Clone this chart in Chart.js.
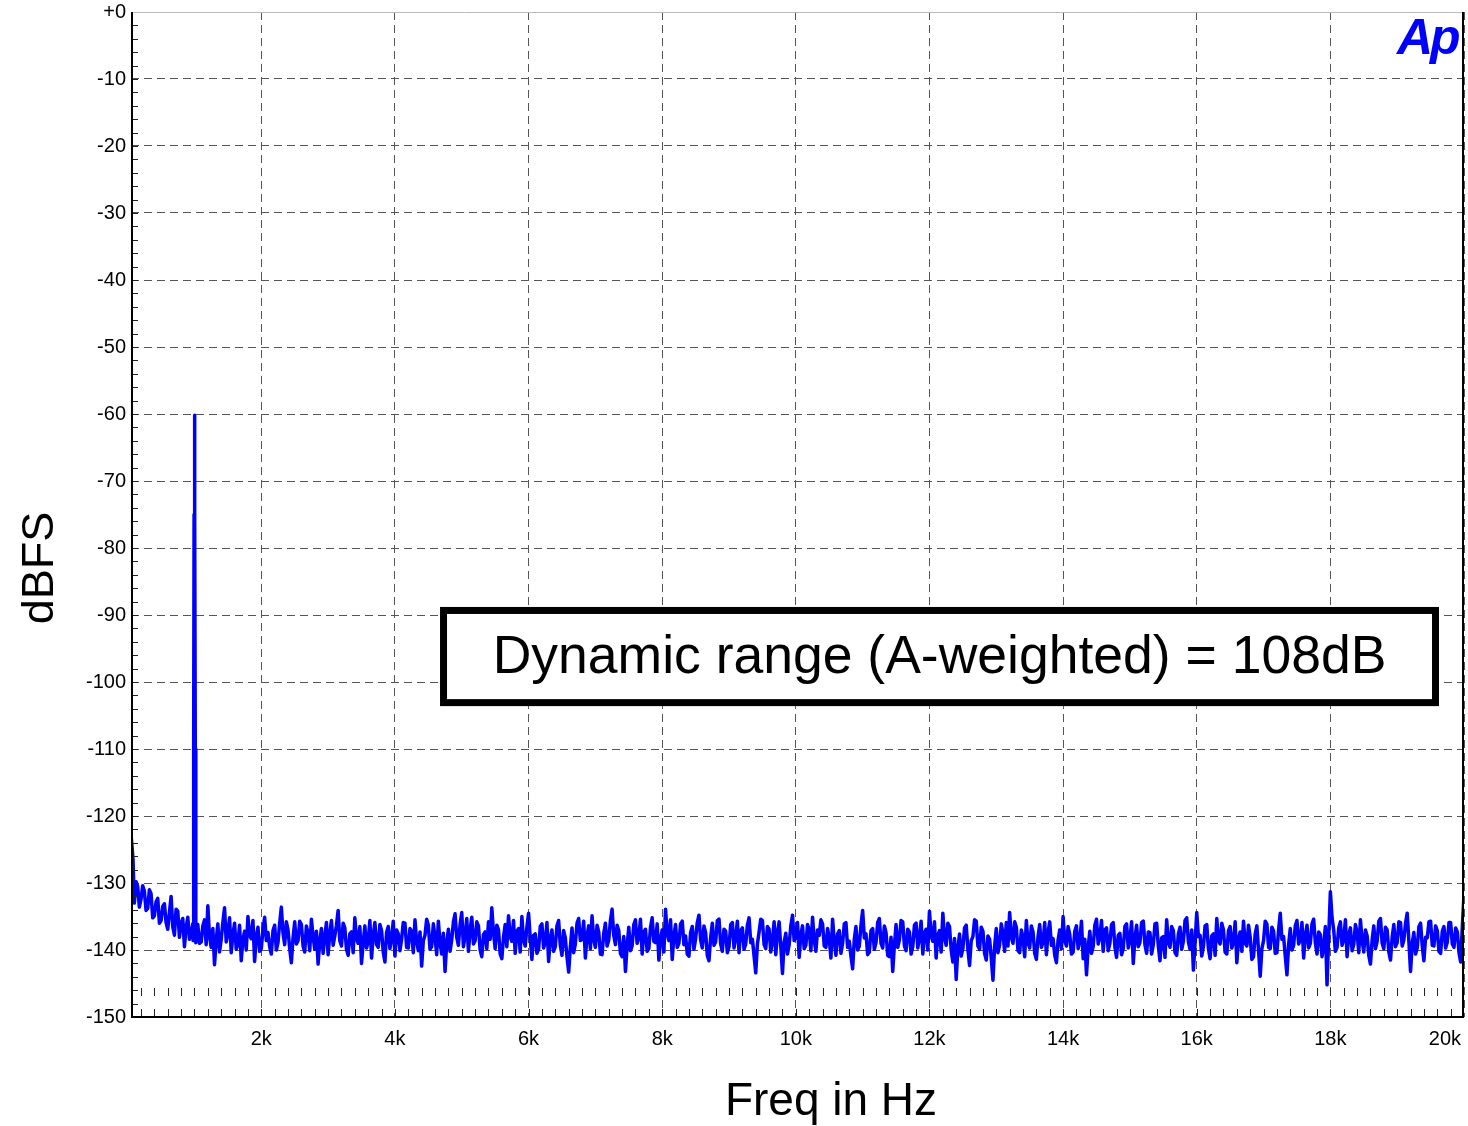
<!DOCTYPE html>
<html lang="en">
<head>
<meta charset="UTF-8">
<title>Dynamic range FFT</title>
<script src="https://cdn.jsdelivr.net/npm/chart.js"></script>
<style>
body { margin: 0; background: #fff; }
#wrap { position: relative; width: 1468px; height: 1126px; }
</style>
</head>
<body>
<div id="wrap"><canvas id="fftChart"></canvas></div>
<script>
// axis ticks
const freqTicks = [2000, 4000, 6000, 8000, 10000, 12000, 14000, 16000, 18000, 20000];
const freqLabels = ['2k', '4k', '6k', '8k', '10k', '12k', '14k', '16k', '18k', '20k'];
const freqMin = 50, freqMax = 20000;
const dbMin = -150, dbMax = 0;

// low end roll-off (Hz / dBFS)
const lowHz = [50, 65, 80];
const lowDb = [-122.8, -124.5, -126.5];

// 1 kHz test tone at -60 dBFS
const toneHz = [980, 988, 994, 1000, 1006, 1012, 1020];
const toneDb = [-138.6, -110, -75, -60.2, -75.5, -110, -138.9];

// noise floor, one value per 25 Hz bin starting at 100 Hz, 1 kHz per row (null = tone bin)
const noiseStartHz = 100;
const binHz = 25;
const noiseDb = [
  -133.0, -129.8, -130.5, -133.6, -132.4, -130.4, -131.2, -134.1, -133.8, -131.0, -131.6, -135.2, -134.9, -132.8, -132.3, -136.0, -135.6, -133.5, -133.1, -135.9,
  -136.9, -134.4, -132.0, -136.5, -137.8, -133.9, -134.2, -138.1, -136.0, -135.3, -139.5, -136.6, -135.1, -138.4, -137.4, -136.1, null, -138.3, -136.2, -139.0,
  -138.8, -136.4, -135.5, -139.2, -133.4, -137.9, -139.6, -136.8, -142.2, -138.5, -136.1, -140.3, -138.4, -135.9, -133.7, -138.8, -137.5, -135.2, -140.4, -137.7,
  -136.0, -139.9, -139.1, -136.3, -141.6, -138.4, -137.2, -140.0, -135.0, -137.8, -138.3, -135.6, -141.7, -138.0, -136.6, -140.2, -139.8, -136.9, -135.1, -138.6,
  -137.4, -139.5, -140.6, -137.1, -136.3, -140.0, -138.9, -136.0, -133.6, -137.5, -139.2, -135.8, -137.0, -139.8, -141.9, -138.2, -135.8, -139.1, -138.6, -135.7,
  -136.2, -139.4, -140.3, -136.4, -137.5, -140.1, -135.4, -138.0, -139.9, -137.2, -142.1, -138.7, -136.8, -140.5, -138.1, -135.9, -140.7, -137.6, -135.6, -139.3,
  -137.9, -136.3, -134.1, -138.6, -139.4, -136.0, -136.7, -139.9, -140.8, -137.6, -137.3, -140.4, -135.2, -138.3, -139.0, -136.5, -142.0, -138.9, -136.4, -139.7,
  -138.7, -135.6, -141.2, -137.8, -135.9, -139.2, -139.6, -136.2, -137.1, -140.3, -141.8, -137.4, -136.5, -139.8, -138.2, -135.7, -140.9, -137.0, -137.6, -140.1,
  -138.4, -135.9, -136.0, -139.6, -139.7, -136.8, -137.2, -140.4, -135.5, -138.7, -140.1, -137.3, -142.4, -138.6, -137.8, -135.4, -136.3, -139.9, -139.5, -136.1,
  -138.0, -140.7, -135.7, -138.9, -140.6, -137.5, -143.2, -139.0, -136.9, -140.2, -138.5, -135.8, -134.6, -138.1, -139.3, -136.2, -134.4, -139.5, -137.9, -135.3,
  -140.2, -137.0, -135.1, -139.1, -138.6, -135.8, -136.4, -140.0, -141.0, -137.7, -137.3, -139.8, -135.8, -138.4, -133.7, -137.4, -139.8, -136.3, -137.0, -140.6,
  -141.3, -138.1, -136.2, -139.5, -134.9, -138.0, -138.7, -135.6, -140.5, -137.2, -136.8, -140.3, -135.0, -138.5, -139.4, -136.6, -134.5, -138.2, -141.4, -137.8,
  -137.6, -140.5, -139.9, -136.5, -136.1, -139.7, -138.8, -135.9, -141.7, -138.3, -137.0, -140.2, -139.5, -136.4, -135.6, -139.3, -140.8, -137.1, -138.2, -141.0,
  -143.3, -139.6, -136.7, -140.4, -139.1, -136.0, -135.3, -138.6, -138.4, -135.7, -141.2, -137.9, -136.4, -139.8, -134.9, -138.4, -139.6, -136.3, -137.3, -140.6,
  -140.7, -137.5, -136.0, -139.4, -138.5, -135.6, -133.9, -137.8, -139.2, -136.3, -137.1, -140.5, -141.0, -138.0, -143.2, -139.4, -136.6, -140.1, -139.4, -136.2,
  -135.5, -139.0, -138.1, -135.4, -140.6, -137.3, -136.9, -140.2, -139.8, -136.6, -135.2, -138.7, -138.9, -136.1, -141.5, -138.4, -137.0, -140.3, -133.9, -137.6,
  -138.6, -135.5, -141.4, -137.9, -136.2, -139.6, -139.0, -136.1, -135.7, -139.2, -137.9, -140.6, -140.9, -137.4, -136.5, -139.9, -138.3, -135.9, -134.8, -138.5,
  -139.7, -136.4, -137.4, -140.8, -141.6, -138.2, -136.0, -139.3, -138.8, -135.6, -135.4, -139.1, -140.2, -136.9, -137.2, -140.4, -139.5, -136.2, -135.9, -139.7,
  -138.1, -135.7, -140.4, -137.1, -136.7, -139.9, -139.1, -136.3, -135.2, -138.9, -138.4, -140.9, -143.4, -139.1, -137.3, -135.4, -135.6, -139.2, -139.8, -136.5,
  -136.9, -140.3, -138.6, -135.8, -140.7, -137.4, -135.8, -139.5, -143.5, -138.8, -137.5, -140.6, -139.2, -136.4, -134.8, -138.6, -138.0, -135.9, -141.1, -137.7,
  -136.4, -139.8, -139.3, -136.2, -137.0, -140.1, -135.1, -138.5, -140.2, -137.0, -137.8, -135.5, -136.1, -139.4, -139.6, -136.8, -138.3, -141.2, -135.4, -138.7,
  -140.8, -137.6, -137.1, -140.5, -139.0, -136.1, -135.9, -139.6, -138.7, -140.9, -142.8, -138.4, -136.5, -140.0, -139.4, -136.3, -134.1, -138.2, -137.6, -140.7,
  -140.3, -137.1, -136.8, -139.9, -138.9, -135.9, -135.3, -139.0, -139.7, -136.4, -137.4, -140.8, -141.0, -138.1, -143.2, -139.3, -136.2, -139.6, -138.5, -135.6,
  -135.8, -139.4, -140.1, -136.9, -137.3, -140.6, -139.5, -136.3, -136.0, -139.7, -138.2, -135.7, -140.6, -137.5, -136.9, -140.0, -134.2, -137.9, -138.7, -135.8,
  -141.2, -137.8, -137.1, -140.3, -134.5, -138.2, -139.3, -136.0, -136.5, -140.0, -141.8, -138.3, -144.4, -139.7, -137.6, -140.9, -139.8, -136.7, -136.3, -139.9,
  -142.3, -138.6, -138.0, -135.5, -135.7, -139.4, -139.9, -136.6, -137.2, -140.5, -141.5, -137.9, -138.4, -141.2, -144.5, -139.5, -136.8, -140.4, -139.2, -136.1,
  -137.5, -140.2, -135.9, -139.4, -134.4, -138.1, -139.0, -135.8, -136.6, -140.1, -140.4, -137.0, -138.1, -141.0, -135.6, -138.9, -139.7, -136.4, -137.3, -140.5,
  -141.4, -138.0, -136.2, -139.6, -138.9, -135.9, -140.7, -137.4, -135.8, -139.3, -138.3, -140.8, -141.9, -138.5, -137.0, -139.8, -135.0, -138.6, -139.4, -136.5,
  -137.7, -140.6, -140.3, -137.2, -136.4, -139.8, -138.6, -135.7, -141.3, -138.4, -143.7, -139.6, -137.2, -140.5, -139.5, -136.3, -135.4, -139.1, -138.1, -135.6,
  -140.2, -137.0, -136.7, -140.1, -139.0, -136.2, -135.9, -139.5, -141.1, -137.8, -137.5, -140.7, -139.8, -136.5, -136.1, -139.7, -138.4, -135.8, -142.0, -138.3,
  -136.3, -139.5, -138.9, -135.9, -135.7, -139.2, -140.5, -137.3, -137.4, -140.6, -139.2, -136.1, -136.0, -139.4, -141.6, -138.2, -138.0, -141.1, -135.5, -138.8,
  -139.6, -136.5, -137.1, -140.4, -140.8, -137.6, -136.6, -139.9, -138.7, -135.6, -135.2, -138.8, -139.9, -137.0, -143.0, -139.1, -134.4, -138.0, -137.8, -140.9,
  -139.5, -136.4, -136.2, -139.8, -141.3, -137.9, -137.6, -140.8, -135.3, -138.6, -139.1, -136.0, -137.0, -140.3, -140.6, -137.1, -136.5, -139.7, -138.8, -135.8,
  -141.9, -138.3, -137.3, -140.2, -135.7, -139.0, -139.4, -136.3, -138.1, -141.4, -141.0, -137.6, -136.4, -140.1, -143.9, -139.8, -138.6, -135.7, -136.1, -139.6,
  -139.8, -136.6, -137.2, -140.5, -140.4, -137.0, -134.5, -138.4, -138.0, -140.9, -143.7, -139.2, -136.8, -140.0, -139.3, -136.4, -135.6, -139.1, -138.5, -135.9,
  -141.2, -137.8, -136.3, -139.7, -139.0, -136.1, -135.4, -138.9, -140.6, -137.3, -137.7, -141.0, -139.4, -136.5, -145.2, -138.0, -131.3, -135.2, -137.0, -140.2,
  -139.6, -136.7, -135.8, -139.3, -138.4, -135.5, -141.0, -137.7, -136.7, -140.1, -139.2, -136.2, -137.3, -140.4, -135.5, -138.6, -140.3, -137.0, -137.9, -140.8,
  -142.1, -138.5, -136.4, -139.8, -138.7, -135.7, -135.3, -139.0, -139.8, -136.6, -137.0, -140.3, -141.5, -138.1, -136.2, -139.5, -138.9, -135.8, -135.9, -139.4,
  -138.5, -136.0, -134.5, -138.7, -143.2, -139.0, -137.4, -140.6, -139.7, -136.5, -136.0, -139.4, -141.6, -138.1, -138.2, -135.8, -135.7, -139.3, -139.4, -136.4,
  -137.1, -140.2, -140.5, -137.2, -136.5, -139.7, -138.8, -135.9, -135.9, -139.1, -139.6, -136.7, -137.3, -140.4, -141.8, -136.5, -131.8
];

// annotation box, in axis units
const noteText = 'Dynamic range (A-weighted) = 108dB';
const noteBox = { hzFrom: 4675, hzTo: 19626, dbTop: -88.8, dbBottom: -103.6 };

const points = [];
lowHz.forEach((f, i) => points.push({ x: f, y: lowDb[i] }));
noiseDb.forEach((v, i) => {
    if (v !== null) points.push({ x: noiseStartHz + i * binHz, y: v });
});
toneHz.forEach((f, i) => points.push({ x: f, y: toneDb[i] }));
points.sort((a, b) => a.x - b.x);

const FONT = '"Liberation Sans", Arial, sans-serif';

const apPlot = {
    id: 'apPlot',
    beforeDraw(chart) {
        const ctx = chart.ctx;
        ctx.save();
        ctx.fillStyle = '#fff';
        ctx.fillRect(0, 0, chart.width, chart.height);
        ctx.restore();
    },
    afterDatasetsDraw(chart) {
        const ctx = chart.ctx;
        const xs = chart.scales.x, ys = chart.scales.y;
        const a = chart.chartArea;
        ctx.save();

        // minor ticks
        ctx.strokeStyle = '#222';
        ctx.lineWidth = 1;
        ctx.beginPath();
        for (let d = -148; d < 0; d += 2) {
            const y = Math.round(ys.getPixelForValue(d)) + 0.5;
            ctx.moveTo(a.left, y);
            ctx.lineTo(a.left + 7, y);
        }
        for (let f = 200; f < 20000; f += 200) {
            const x = Math.round(xs.getPixelForValue(f)) + 0.5;
            ctx.moveTo(x, a.bottom - 8);
            ctx.lineTo(x, a.bottom - 1);
            ctx.moveTo(x, a.bottom - 29);
            ctx.lineTo(x, a.bottom - 21);
        }
        ctx.stroke();

        // frame
        ctx.strokeStyle = '#bbb';
        ctx.lineWidth = 1;
        ctx.beginPath();
        ctx.moveTo(a.left, a.top + 0.5);
        ctx.lineTo(a.right, a.top + 0.5);
        ctx.stroke();
        ctx.strokeStyle = '#000';
        ctx.lineWidth = 2;
        ctx.beginPath();
        ctx.moveTo(a.left + 1, a.top);
        ctx.lineTo(a.left + 1, a.bottom);
        ctx.lineTo(a.right, a.bottom);
        ctx.moveTo(a.right - 1, a.top);
        ctx.lineTo(a.right - 1, a.bottom);
        ctx.stroke();

        // annotation
        const bx0 = xs.getPixelForValue(noteBox.hzFrom);
        const bx1 = xs.getPixelForValue(noteBox.hzTo);
        const by0 = ys.getPixelForValue(noteBox.dbTop);
        const by1 = ys.getPixelForValue(noteBox.dbBottom);
        ctx.fillStyle = '#fff';
        ctx.fillRect(bx0, by0, bx1 - bx0, by1 - by0);
        ctx.strokeStyle = '#000';
        ctx.lineWidth = 7;
        ctx.strokeRect(bx0 + 3.5, by0 + 3.5, bx1 - bx0 - 7, by1 - by0 - 7);
        ctx.fillStyle = '#000';
        ctx.font = '53.5px ' + FONT;
        ctx.textAlign = 'center';
        ctx.textBaseline = 'alphabetic';
        ctx.fillText(noteText, (bx0 + bx1) / 2, (by0 + by1) / 2 + 16);

        // Ap logo
        ctx.fillStyle = '#0000ff';
        ctx.font = 'italic bold 50px ' + FONT;
        ctx.textAlign = 'left';
        ctx.letterSpacing = '-3px';
        ctx.fillText('Ap', 1397, 54);
        ctx.letterSpacing = '0px';

        // x tick labels
        ctx.fillStyle = '#000';
        ctx.font = '20px ' + FONT;
        freqTicks.forEach((f, i) => {
            const x = xs.getPixelForValue(f);
            if (i === freqTicks.length - 1) {
                ctx.textAlign = 'right';
                ctx.fillText(freqLabels[i], x - 3, 1045);
            } else {
                ctx.textAlign = 'center';
                ctx.fillText(freqLabels[i], x, 1045);
            }
        });

        // axis titles
        ctx.font = '46px ' + FONT;
        ctx.textAlign = 'center';
        ctx.fillText('Freq in Hz', 831, 1115);
        ctx.translate(53, 568);
        ctx.rotate(-Math.PI / 2);
        ctx.font = '45px ' + FONT;
        ctx.fillText('dBFS', 0, 0);
        ctx.restore();
    }
};

new Chart(document.getElementById('fftChart'), {
    type: 'line',
    data: {
        datasets: [{
            data: points,
            borderColor: '#0000ff',
            borderWidth: 3.5,
            borderJoinStyle: 'round',
            pointRadius: 0,
            tension: 0,
            fill: false
        }]
    },
    options: {
        responsive: true,
        maintainAspectRatio: false,
        animation: false,
        events: [],
        layout: { padding: { top: 0, right: 4, left: 0, bottom: 0 } },
        plugins: { legend: { display: false }, tooltip: { enabled: false } },
        scales: {
            x: {
                type: 'linear',
                min: freqMin,
                max: freqMax,
                afterBuildTicks(scale) { scale.ticks = freqTicks.map(v => ({ value: v })); },
                afterFit(scale) { scale.height = 109; },
                ticks: { display: false },
                grid: { color: '#555', lineWidth: 1, drawTicks: false },
                border: { display: false, dash: [8, 5] }
            },
            y: {
                min: dbMin,
                max: dbMax,
                afterFit(scale) { scale.width = 131; scale.paddingTop = 12; },
                ticks: {
                    stepSize: 10,
                    padding: 5,
                    color: '#000',
                    font: { family: FONT, size: 20 },
                    callback: v => (v === 0 ? '+0' : String(v))
                },
                grid: { color: '#555', lineWidth: 1, drawTicks: false },
                border: { display: false, dash: [8, 5] }
            }
        }
    },
    plugins: [apPlot]
});
</script>
</body>
</html>
